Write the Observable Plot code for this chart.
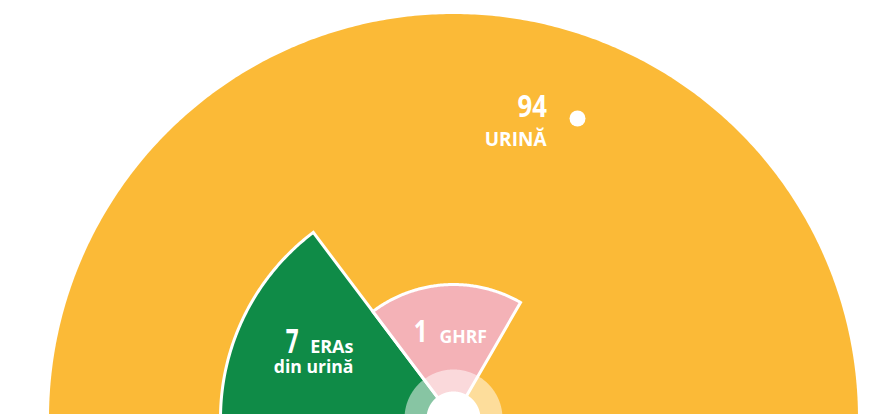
<!DOCTYPE html>
<html><head><meta charset="utf-8">
<script src="https://cdn.jsdelivr.net/npm/d3@7"></script>
<script src="https://cdn.jsdelivr.net/npm/@observablehq/plot@0.6"></script>
<style>
html,body{margin:0;padding:0;background:#fff;overflow:hidden}
svg{display:block;overflow:hidden}
</style>
</head><body><div id="chart"></div>
<script>
// ---- data ----
const categories = ["URINĂ", "ERAs din urină", "GHRF"];
const values = [94, 7, 1];
const colors = ["#FBBA37", "#0F8B47", "#F4B2B7"];

// ---- layout (pixel-based, centre of the rose just below the bottom edge) ----
const W = 887, H = 414, CX = 453, CY = 418;
const radius = d3.scaleLog().domain([1, 7, 94]).range([134, 233, 404.5]);
const angles = [[0, 360], [-118, -37], [-37, 30]]; // degrees, clockwise from north

function sectorPoints(r, a0, a1, full) {
  const pts = [];
  if (!full) pts.push({x: 0, y: 0});
  const n = Math.max(8, Math.ceil(Math.abs(a1 - a0) * 2));
  for (let i = 0; i <= n; i++) {
    const a = (a0 + (a1 - a0) * i / n) * Math.PI / 180;
    pts.push({x: r * Math.sin(a), y: r * Math.cos(a)});
  }
  return pts;
}

const sectors = categories.map((c, i) => ({
  category: c, value: values[i], color: colors[i],
  points: sectorPoints(radius(values[i]), angles[i][0], angles[i][1], i === 0)
}));

// label rows built from categories / values
const numRows = [
  {text: String(values[0]), x: 93.5, y: 302, size: 30},
  {text: String(values[1]), x: -155, y: 66, size: 34},
  {text: String(values[2]), x: -26, y: 77, size: 30}
];
const numScale = [0.86, 0.66, 0.8];
const wordEnd = [
  {text: categories[0], x: 93, y: 273, size: 19},
  {text: categories[1].split(" ")[0], x: -100, y: 66, size: 18},
  {text: categories[1].split(" ").slice(1).join(" "), x: -100, y: 46, size: 17.6}
];
const wordStart = [
  {text: categories[2], x: -14, y: 76, size: 17.6}
];
const markerDot = [{x: 124, y: 300}];

const marks = [];
sectors.forEach((s, i) => {
  marks.push(Plot.line(s.points, {
    x: "x", y: "y", curve: "linear-closed",
    fill: s.color,
    stroke: i === 0 ? "none" : "white",
    strokeWidth: 3, strokeLinejoin: "miter", strokeMiterlimit: 10
  }));
});
marks.push(Plot.line(sectorPoints(49, 0, 360, true), {
  x: "x", y: "y", curve: "linear-closed", fill: "white", fillOpacity: 0.5, stroke: "none"
}));
marks.push(Plot.line(sectorPoints(27, 0, 360, true), {
  x: "x", y: "y", curve: "linear-closed", fill: "white", stroke: "none"
}));
marks.push(Plot.dot(markerDot, {x: "x", y: "y", r: 8, fill: "white", stroke: "none"}));
marks.push(Plot.text(numRows, {
  x: "x", y: "y", text: "text", fontSize: "size", textAnchor: "end",
  lineAnchor: "bottom", fill: "white", fontWeight: "bold"
}));
marks.push(Plot.text(wordEnd, {
  x: "x", y: "y", text: "text", fontSize: "size", textAnchor: "end",
  lineAnchor: "bottom", fill: "white", fontWeight: "bold"
}));
marks.push(Plot.text(wordStart, {
  x: "x", y: "y", text: "text", fontSize: "size", textAnchor: "start",
  lineAnchor: "bottom", fill: "white", fontWeight: "bold"
}));

const chart = Plot.plot({
  width: W, height: H, margin: 0,
  x: {domain: [-CX, W - CX], axis: null},
  y: {domain: [CY - H, CY], axis: null},
  style: {fontFamily: "'Open Sans', sans-serif", background: "white", overflow: "hidden"},
  marks
});
// condensed look for the big numbers: horizontal squeeze about the anchor
d3.select(chart).selectAll("text").each(function() {
  const k = numRows.findIndex(r => r.text === this.textContent);
  if (k < 0) return;
  const t = this.getAttribute("transform") || "";
  this.setAttribute("transform", t + ` scale(${numScale[k]},1)`);
});
document.getElementById("chart").appendChild(chart);
</script>
</body></html>
